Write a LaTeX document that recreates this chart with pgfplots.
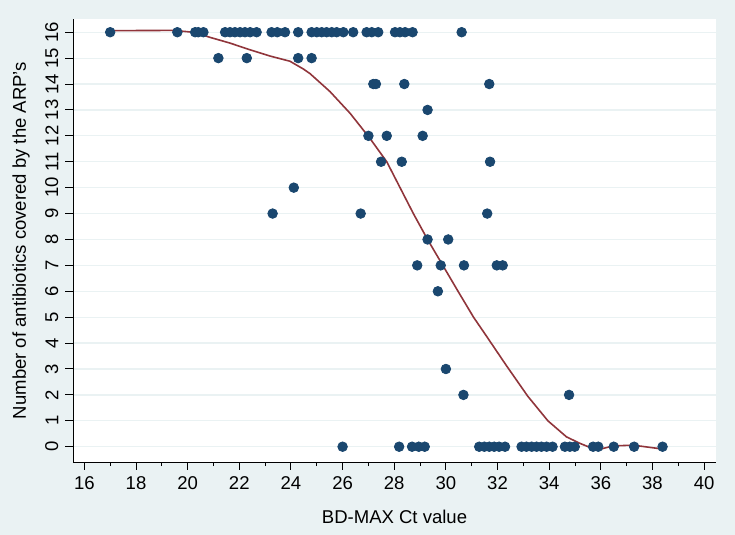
\documentclass[border=0pt]{standalone}
\usepackage{fontspec}
\setmainfont{Liberation Sans}
\usepackage{pgfplots}
\pgfplotsset{compat=1.18}
\definecolor{bgc}{RGB}{234,242,243}
\definecolor{gridc}{RGB}{234,242,243}
\definecolor{navyc}{RGB}{26,71,111}
\definecolor{maroonc}{RGB}{144,53,59}
\begin{document}
\begin{tikzpicture}
\fill[bgc] (0,0) rectangle (367.5bp,267.5bp);
\begin{axis}[
  at={(36.5bp,36.5bp)}, anchor=south west,
  scale only axis, width=321.5bp, height=221.5bp,
  xmin=15.56, xmax=40.46, ymin=-0.59, ymax=16.51,
  axis background/.style={fill=white},
  axis x line*=bottom, axis y line*=left,
  axis line style={-, line width=0.5bp, black},
  xtick={16,18,...,40}, minor xtick={17,19,...,39},
  ytick={0,1,...,16},
  tick align=outside,
  major tick length=3.8bp, minor tick length=2bp,
  tick style={black, line width=0.5bp},
  ymajorgrids, grid style={gridc, line width=0.6bp},
  /pgf/number format/assume math mode=true,
  tick label style={font=\fontsize{9.3}{11}\selectfont},
  yticklabel style={rotate=90, anchor=south},
  label style={font=\fontsize{9.3}{11}\selectfont},
  xlabel={BD-MAX Ct value},
  ylabel={Number of antibiotics covered by the ARP's},
  xlabel style={at={(axis description cs:0.5,-0.1242)}, anchor=center},
  ylabel style={at={(axis description cs:-0.0809,0.5)}, anchor=center},
  clip=false,
]
\addplot[only marks, mark=*, mark size=2.4bp, color=navyc, mark options={fill=navyc, draw=navyc}] table {
x y
17.0 16
19.60 16
20.29 16
20.41 16
20.61 16
21.45 16
21.64 16
21.83 16
22.03 16
22.22 16
22.42 16
22.67 16
23.25 16
23.47 16
23.77 16
24.28 16
24.80 16
25.00 16
25.19 16
25.38 16
25.58 16
25.77 16
26.03 16
26.41 16
26.93 16
27.13 16
27.38 16
28.03 16
28.22 16
28.42 16
28.71 16
30.61 16
21.19 15
22.29 15
24.28 15
24.80 15
27.19 14
27.29 14
28.39 14
31.68 14
29.29 13
27.00 12
27.71 12
29.10 12
27.49 11
28.29 11
31.71 11
24.11 10
23.29 9
26.70 9
31.60 9
29.29 8
30.09 8
28.89 7
29.80 7
30.70 7
31.97 7
32.20 7
29.69 6
30.00 3
30.68 2
34.77 2
26.00 0
28.19 0
28.69 0
28.95 0
29.18 0
31.29 0
31.49 0
31.68 0
31.87 0
32.06 0
32.29 0
32.93 0
33.12 0
33.32 0
33.51 0
33.70 0
33.90 0
34.13 0
34.61 0
34.80 0
34.99 0
35.70 0
35.90 0
36.50 0
37.29 0
38.39 0
};
\addplot[no marks, color=maroonc, line width=0.8bp] table {
x y
17.00 16.06
19.45 16.07
20.09 16.01
20.35 15.97
20.87 15.80
21.64 15.58
22.42 15.32
23.19 15.08
23.96 14.88
24.48 14.58
24.74 14.40
25.51 13.71
26.29 12.87
27.06 11.90
27.71 11.00
28.74 9.00
29.29 8.00
29.88 7.00
30.47 6.00
31.07 5.00
31.55 4.30
32.33 3.15
33.17 1.95
33.95 1.00
34.67 0.38
35.19 0.13
35.83 -0.13
36.48 0.03
37.25 0.06
38.39 -0.09
};
\end{axis}
\pgfresetboundingbox
\useasboundingbox (0,0) rectangle (367.5bp,267.5bp);
\end{tikzpicture}
\end{document}
